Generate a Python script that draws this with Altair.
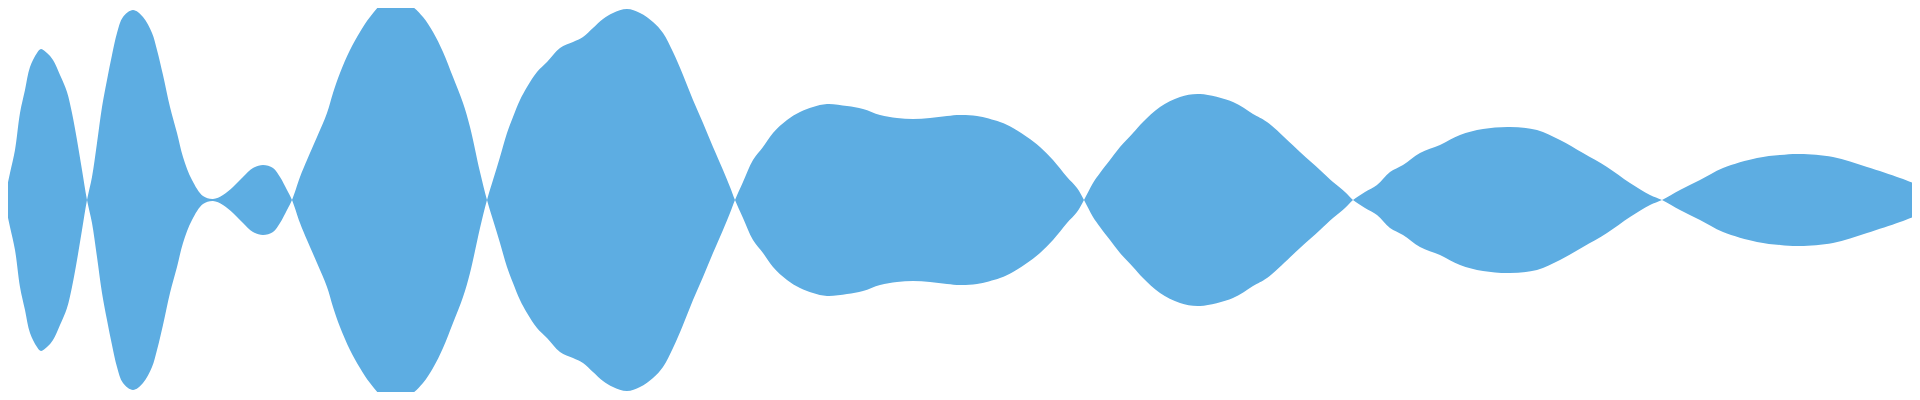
import altair as alt
import pandas as pd

# sample position along the signal (px-like units)
t = [0, 2, 4,
     10, 15, 20, 25, 30, 37, 41, 47, 53, 60, 67, 72, 77, 82, 87,
     92, 97, 102, 107, 112, 117, 123, 133, 143, 152, 157, 163, 170, 177, 183, 192, 203, 213, 223, 233, 243, 253, 263, 273, 280, 287, 292,
     300, 307, 317, 327, 333, 340, 350, 360, 370, 383, 395, 410, 423, 433, 443, 453, 463, 470, 480, 487,
     493, 500, 507, 513, 520, 527, 537, 547, 560, 573, 583, 593, 603, 613, 627, 640, 653, 663, 673, 683, 693, 703, 713, 723, 730, 735,
     743, 753, 763, 773, 787, 800, 813, 827, 847, 863, 880, 897, 913, 930, 947, 960, 977, 1000, 1013, 1027, 1040, 1053, 1067, 1077, 1084,
     1093, 1100, 1110, 1120, 1133, 1143, 1160, 1180, 1200, 1233, 1253, 1267, 1300, 1320, 1333, 1345, 1353,
     1365, 1377, 1390, 1403, 1420, 1440, 1460, 1483, 1510, 1537, 1560, 1583, 1607, 1630, 1650, 1662,
     1680, 1700, 1723, 1757, 1780, 1800, 1833, 1867, 1900, 1918, 1920]

# signed amplitude (half-width of the envelope), sign alternates per lobe
amp = [15, 7, 0,
       -27, -50, -87, -110, -133, -147, -151, -147, -140, -125, -108, -87, -60, -30, 0,
       23, 57, 93, 120, 145, 167, 183, 190, 183, 167, 150, 125, 93, 67, 43, 20, 4, 1, 5, 13, 23, 32, 35, 32, 23, 10, 0,
       -23, -40, -63, -87, -107, -127, -150, -168, -183, -197, -200, -195, -183, -168, -148, -123, -97, -73, -28, 0,
       20, 43, 67, 83, 100, 113, 128, 138, 152, 158, 163, 172, 181, 187, 191, 187, 178, 167, 148, 125, 100, 77, 53, 30, 13, 0,
       -18, -40, -53, -67, -80, -88, -93, -96, -94, -91, -85, -82, -81, -82, -84, -85, -84, -78, -72, -63, -53, -40, -23, -12, 0,
       17, 27, 40, 53, 67, 78, 93, 103, 106, 98, 86, 78, 48, 30, 18, 8, 0,
       -8, -15, -28, -35, -47, -55, -65, -71, -73, -70, -60, -47, -33, -17, -5, 0,
       10, 20, 32, 42, 45, 46, 43, 33, 22, 15, 14]

df = pd.DataFrame({"t": t, "amp": amp})

chart = (
    alt.Chart(df)
    .transform_calculate(neg="-datum.amp")
    .mark_area(interpolate="catmull-rom", color="#5DADE2", clip=True)
    .encode(
        x=alt.X("t:Q", scale=alt.Scale(domain=[8, 1912], nice=False, zero=False), axis=None),
        y=alt.Y("amp:Q", scale=alt.Scale(domain=[-192, 192], nice=False, zero=False), axis=None),
        y2="neg:Q",
    )
    .properties(width=1904, height=384, padding=0, autosize=alt.AutoSizeParams(type="none"))
    .configure_view(stroke=None)
)

chart.save("out.html", embed_options={"renderer": "svg", "actions": False})
